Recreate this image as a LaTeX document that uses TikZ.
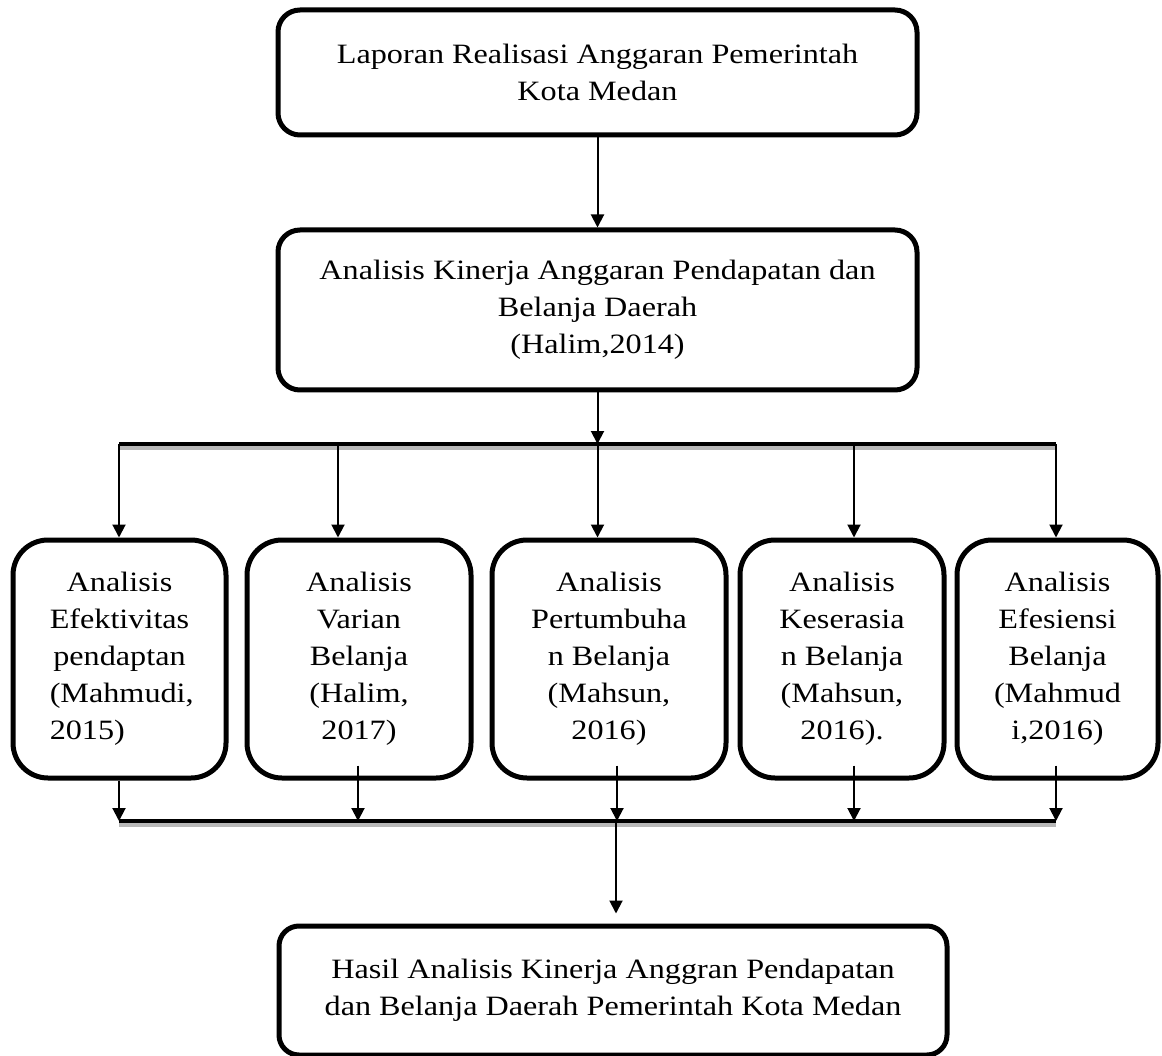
\documentclass[tikz,border=0pt]{standalone}
\usepackage{fontspec}
\setmainfont{Liberation Serif}[FakeStretch=1.15]
\usetikzlibrary{arrows.meta,calc}
\begin{document}
\begin{tikzpicture}[x=1pt,y=-1pt,
  box/.style={draw, line width=5pt, rounded corners=22pt, inner sep=0pt, align=center,
    font=\fontsize{28}{37}\selectfont},
  colbox/.style={box, rounded corners=35pt, minimum height=238pt},
  arr/.style={line width=2pt, -{Triangle[width=13pt,length=13pt]}},
  bus/.style={line width=4pt},
  shadowline/.style={line width=4pt, draw=black!28},
]
\useasboundingbox (0,0) rectangle (1162,1056);

% boxes
\node[box, minimum width=639pt, minimum height=125pt] (lra) at (597.5,72.5)
  {Laporan Realisasi Anggaran Pemerintah\\Kota Medan};
\node[box, minimum width=639pt, minimum height=160pt] (akap) at (597.5,310)
  {Analisis Kinerja Anggaran Pendapatan dan\\Belanja Daerah\\(Halim,2014)};

\node[colbox, minimum width=213pt] (c1) at (119.5,659)
  {Analisis\\Efektivitas\\pendaptan\\\makebox[0pt][l]{(Mahmudi,}\phantom{Efektivitas}\\\makebox[0pt][l]{2015)}\phantom{Efektivitas}};
\node[colbox, minimum width=224pt] (c2) at (359,659)
  {Analisis\\Varian\\Belanja\\(Halim,\\2017)};
\node[colbox, minimum width=234pt] (c3) at (609,659)
  {Analisis\\Pertumbuha\\n Belanja\\(Mahsun,\\2016)};
\node[colbox, minimum width=204pt] (c4) at (842,659)
  {Analisis\\Keserasia\\n Belanja\\(Mahsun,\\2016).};
\node[colbox, minimum width=201pt] (c5) at (1057.5,659)
  {Analisis\\Efesiensi\\Belanja\\(Mahmud\\i,2016)};

\node[box, minimum width=668pt, minimum height=129pt, rounded corners=20pt] (hasil) at (613,990.5)
  {Hasil Analisis Kinerja Anggran Pendapatan\\dan Belanja Daerah Pemerintah Kota Medan};

% bus coordinates
\coordinate (u1) at (119,444);
\coordinate (u2) at (338,444);
\coordinate (u3) at (597.5,444);
\coordinate (u4) at (854,444);
\coordinate (u5) at (1056,444);
\coordinate (l1) at (119,821);
\coordinate (l2) at (358,821);
\coordinate (l3) at (617,821);
\coordinate (l4) at (854,821);
\coordinate (l5) at (1056,821);
\coordinate (m) at (616,821);

% top connectors
\draw[arr] (lra.south) -- (akap.north);
\draw[arr] (akap.south) -- (u3);

% top bus
\draw[shadowline] ([yshift=-4pt]u1) -- ([yshift=-4pt]u5);
\draw[bus] (u1) -- (u5);

\draw[arr] (u1) -- (u1 |- c1.north);
\draw[arr] (u2) -- (u2 |- c2.north);
\draw[arr] (u3) -- (u3 |- c3.north);
\draw[arr] (u4) -- (u4 |- c4.north);
\draw[arr] (u5) -- (u5 |- c5.north);

% lower bus
\draw[shadowline] ([yshift=-4pt]l1) -- ([yshift=-4pt]l5);
\draw[bus] (l1) -- (l5);

\draw[arr] (l1 |- c1.south) -- (l1);
\draw[arr] ($(l2 |- c2.south)+(0,-15)$) -- (l2);
\draw[arr] ($(l3 |- c3.south)+(0,-15)$) -- (l3);
\draw[arr] ($(l4 |- c4.south)+(0,-15)$) -- (l4);
\draw[arr] ($(l5 |- c5.south)+(0,-15)$) -- (l5);

\draw[arr] (m) -- ($(m |- hasil.north)+(0,-10)$);
\end{tikzpicture}
\end{document}
